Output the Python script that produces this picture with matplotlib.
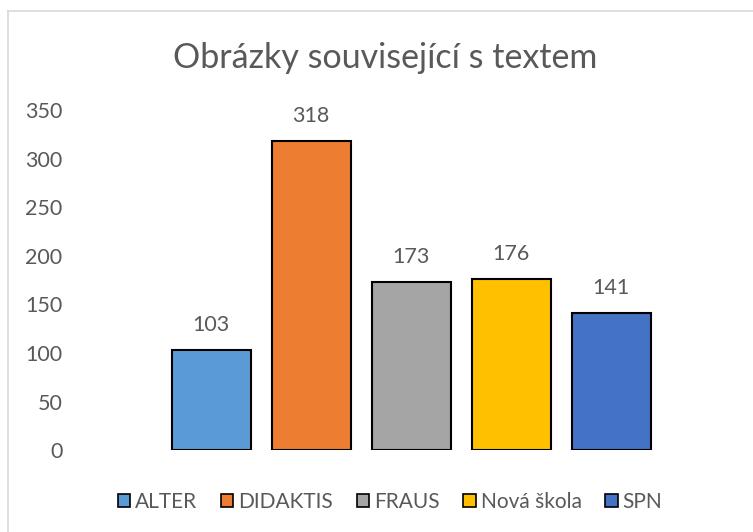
import matplotlib.pyplot as plt
from matplotlib.patches import Patch
from matplotlib.lines import Line2D

publishers = ["ALTER", "DIDAKTIS", "FRAUS", "Nová škola", "SPN"]
counts = [103, 318, 173, 176, 141]
colors = ["#5B9BD5", "#ED7D31", "#A5A5A5", "#FFC000", "#4472C4"]
yticks = [0, 50, 100, 150, 200, 250, 300, 350]
txt = "#595959"

plt.rcParams['font.family'] = ['Lato', 'DejaVu Sans']

fig = plt.figure(figsize=(7.53, 5.32), dpi=100)
ax = fig.add_axes([0.0956, 0.154, 0.902, 0.639])

pos = list(range(len(publishers)))
bars = ax.bar(pos, counts, width=0.79, color=colors, edgecolor="black", linewidth=1.5)
for b, v in zip(bars, counts):
    ax.annotate(str(v), (b.get_x() + b.get_width() / 2, v), xytext=(0, 18),
                textcoords="offset points", ha="center", va="center",
                fontsize=15.5, color=txt)

ax.set_xlim(-1.39, 5.4)
ax.set_ylim(0, 350)
ax.set_yticks(yticks)
ax.set_xticks([])
ax.tick_params(axis="y", length=0, labelsize=15.5, labelcolor=txt, pad=7)
for s in ax.spines.values():
    s.set_visible(False)

fig.text(0.511, 0.891, "Obrázky související s textem", ha="center", va="center",
         fontsize=24.5, color=txt)

handles = [Patch(facecolor=c, edgecolor="black", linewidth=1.2) for c in colors]
fig.legend(handles, publishers, loc="center", bbox_to_anchor=(0.518, 0.056), ncol=5,
           frameon=False, fontsize=15, labelcolor=txt, handlelength=0.58,
           handleheight=0.58, handletextpad=0.24, columnspacing=1.15)

# chart border
fig.add_artist(Line2D([8 / 753, 8 / 753], [0, 1 - 11 / 532], color="#D9D9D9", lw=1.2))
fig.add_artist(Line2D([8 / 753, 1], [1 - 11 / 532, 1 - 11 / 532], color="#D9D9D9", lw=1.2))

fig.savefig("out.png", dpi=100)
